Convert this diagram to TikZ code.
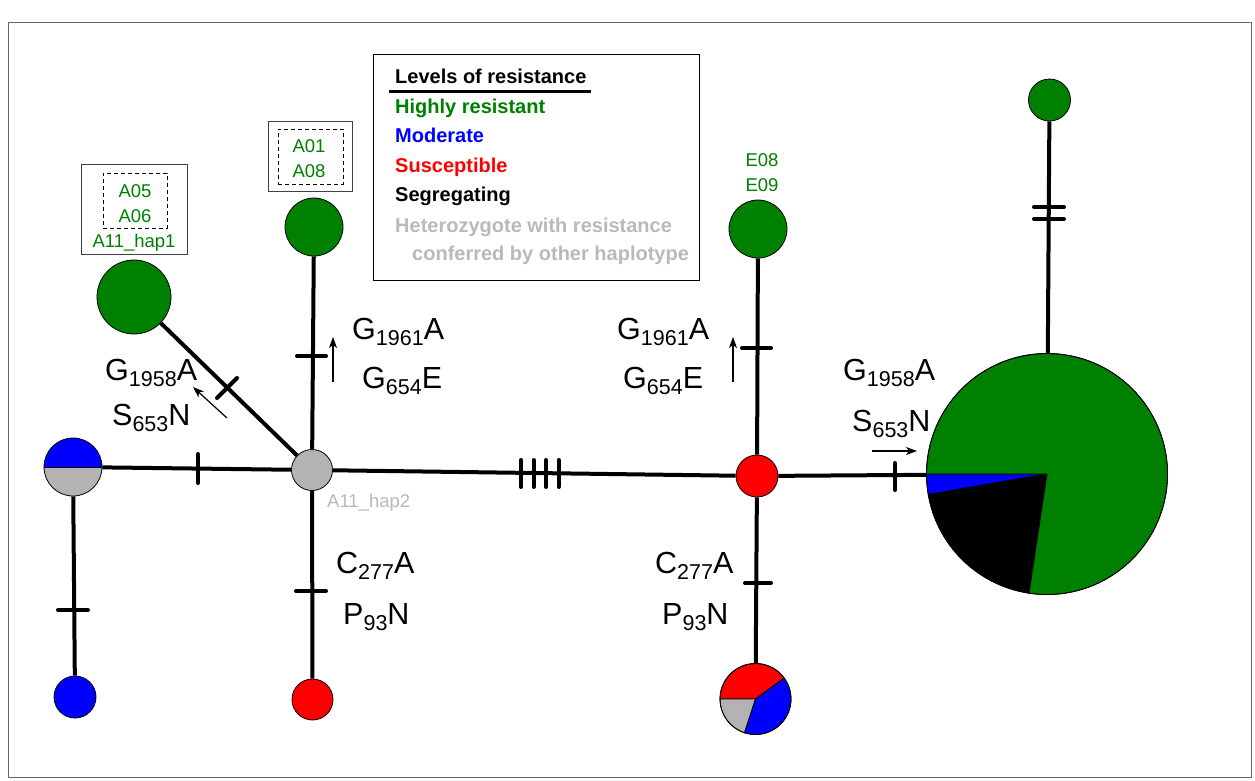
\documentclass[tikz,border=0pt]{standalone}
\usepackage{fontspec}
\setmainfont{Liberation Sans}
\usetikzlibrary{arrows.meta,backgrounds}
\definecolor{hgreen}{RGB}{0,128,0}
\definecolor{hgray}{RGB}{179,179,179}
\definecolor{lgray}{RGB}{185,185,185}
\newcommand\subs[1]{\raisebox{-0.2em}{\fontsize{21.5}{22}\selectfont #1}}
\begin{document}
\begin{tikzpicture}[x=1pt,y=-1pt,
  hap/.style={circle, draw=black, line width=0.8pt, inner sep=0pt},
  edge/.style={line width=4pt},
  tick/.style={line width=4pt, line cap=round},
  arr/.style={-{Stealth[length=11pt,width=8pt,inset=3pt]}, line width=1.2pt},
  mut/.style={font=\fontsize{30.5}{36}\selectfont, anchor=base west, inner sep=0pt},
  small/.style={font=\fontsize{18.5}{22}\selectfont, anchor=base, inner sep=0pt},
  legtxt/.style={font=\bfseries\fontsize{20}{24}\selectfont, anchor=base west, inner sep=0pt},
  box/.style={draw=black!75, line width=0.8pt, inner sep=0pt},
  dbox/.style={draw=black, line width=0.8pt, dash pattern=on 4pt off 3pt, inner sep=0pt}]
\useasboundingbox (0,0) rectangle (1255,780);
\draw[black!60, line width=1pt] (8,22) rectangle (1251,777);

% legend
\node[draw=black, line width=1pt, minimum width=326pt, minimum height=226pt, anchor=north west, inner sep=0pt] (leg) at (373,54) {};
\node[legtxt] (l0) at (395,83) {Levels of resistance};
\draw[line width=3pt] (389,91) -- (591,91);
\node[legtxt, text=hgreen] (l1) at (395,113) {Highly resistant};
\node[legtxt, text=blue] (l2) at (395,142) {Moderate};
\node[legtxt, text=red] (l3) at (395,172) {Susceptible};
\node[legtxt, text=black] (l4) at (395,201) {Segregating};
\node[legtxt, text=lgray] (l5) at (395,232) {Heterozygote with resistance};
\node[legtxt, text=lgray] (l6) at (412,260) {conferred by other haplotype};

% label boxes
\node[box, minimum width=106pt, minimum height=90pt] (bx1) at (134,209) {};
\node[dbox, minimum width=64pt, minimum height=55pt] (dx1) at (135,200.5) {};
\node[small, text=hgreen] (t1) at (135,197) {A05};
\node[small, text=hgreen] (t2) at (135,222) {A06};
\node[small, text=hgreen] (t3) at (134,247) {A11\_hap1};
\node[box, minimum width=84pt, minimum height=70pt] (bx2) at (310,156) {};
\node[dbox, minimum width=65pt, minimum height=55pt] (dx2) at (310.5,156.5) {};
\node[small, text=hgreen] (t4) at (309,152) {A01};
\node[small, text=hgreen] (t5) at (309,177) {A08};
\node[small, text=hgreen] (t6) at (762,166) {E08};
\node[small, text=hgreen] (t7) at (762,191) {E09};

% haplotype nodes
\node[hap, fill=hgreen, minimum size=74pt] (n1) at (134,297) {};
\node[hap, fill=hgreen, minimum size=58pt] (n2) at (314,227) {};
\node[hap, fill=hgray, minimum size=41pt] (c0) at (312,470) {};
\node[small, anchor=base west, text=lgray] (t8) at (327,507) {A11\_hap2};
\coordinate (hc) at (73,467);
\fill[blue] (hc) ++(0:29pt) arc[start angle=0, end angle=180, radius=29pt] -- cycle;
\fill[hgray] (hc) ++(180:29pt) arc[start angle=180, end angle=360, radius=29pt] -- cycle;
\draw[line width=0.8pt] (hc) ++(180:29pt) -- ++(0:58pt);
\node[hap, minimum size=58pt] (h) at (hc) {};
\node[hap, fill=blue, minimum size=42pt] (b) at (75,697) {};
\node[hap, fill=red, minimum size=41pt] (r1) at (312.5,699.5) {};
\node[hap, fill=red, minimum size=42pt] (r2) at (757,476) {};
\node[hap, fill=hgreen, minimum size=58pt] (e) at (758,229) {};
\coordinate (pc1) at (755.5,699);
\fill[red, draw=black, line width=0.8pt] (pc1) -- ++(36:35.5pt) arc[start angle=36, end angle=180, radius=35.5pt] -- cycle;
\fill[hgray, draw=black, line width=0.8pt] (pc1) -- ++(180:35.5pt) arc[start angle=180, end angle=252, radius=35.5pt] -- cycle;
\fill[blue, draw=black, line width=0.8pt] (pc1) -- ++(252:35.5pt) arc[start angle=252, end angle=396, radius=35.5pt] -- cycle;
\node[hap, minimum size=71pt] (p1) at (pc1) {};
\coordinate (pc2) at (1047,474);
\fill[blue, draw=black, line width=0.8pt] (pc2) -- ++(180:120.5pt) arc[start angle=180, end angle=189.8, radius=120.5pt] -- cycle;
\fill[black, draw=black, line width=0.8pt] (pc2) -- ++(189.8:120.5pt) arc[start angle=189.8, end angle=261.4, radius=120.5pt] -- cycle;
\fill[hgreen, draw=black, line width=0.8pt] (pc2) -- ++(261.4:120.5pt) arc[start angle=261.4, end angle=540, radius=120.5pt] -- cycle;
\node[hap, minimum size=241pt] (P) at (pc2) {};
\node[hap, fill=hgreen, minimum size=42pt] (t) at (1049.5,100) {};

% connectors
\begin{scope}[on background layer]
\draw[edge] (n1) -- (c0);
\draw[edge] (n2) -- (c0);
\draw[edge] (h) -- (c0);
\draw[edge] (h) -- (b);
\draw[edge] (c0) -- (r1);
\draw[edge] (c0) -- (r2);
\draw[edge] (e) -- (r2);
\draw[edge] (r2) -- (p1);
\draw[edge] (r2) -- (P);
\draw[edge] (t) -- (P);
\end{scope}

% mutation ticks
\draw[tick] (217,398) -- (237,378);
\draw[tick] (297,356) -- (326,356);
\draw[tick] (198,454) -- (198,483);
\draw[tick] (58,610) -- (88,610);
\draw[tick] (296,591) -- (326,591);
\draw[tick] (521,460) -- (521,487);
\draw[tick] (533.5,460) -- (533.5,487);
\draw[tick] (546,460) -- (546,487);
\draw[tick] (558.5,460) -- (558.5,487);
\draw[tick] (742,348) -- (771,348);
\draw[tick] (745,583) -- (771,583);
\draw[tick] (895,463) -- (895,490);
\draw[tick] (1034,207) -- (1064,207);
\draw[tick] (1034,219) -- (1064,219);

% direction arrows
\coordinate (a1s) at (227,418); \coordinate (a1e) at (193,387);
\coordinate (a2s) at (333,382); \coordinate (a2e) at (333,337);
\coordinate (a3s) at (733,382); \coordinate (a3e) at (733,337);
\coordinate (a4s) at (872,451); \coordinate (a4e) at (917,451);
\draw[arr] (a1s) -- (a1e);
\draw[arr] (a2s) -- (a2e);
\draw[arr] (a3s) -- (a3e);
\draw[arr] (a4s) -- (a4e);

% mutation labels
\node[mut] (m1) at (105,380) {G\subs{1958}A};
\node[mut] (m2) at (112,425) {S\subs{653}N};
\node[mut] (m3) at (352,339) {G\subs{1961}A};
\node[mut] (m4) at (362,388) {G\subs{654}E};
\node[mut] (m5) at (617,339) {G\subs{1961}A};
\node[mut] (m6) at (623,388) {G\subs{654}E};
\node[mut] (m7) at (843,380) {G\subs{1958}A};
\node[mut] (m8) at (852,431) {S\subs{653}N};
\node[mut] (m9) at (336,573) {C\subs{277}A};
\node[mut] (m10) at (343,624) {P\subs{93}N};
\node[mut] (m11) at (655,573) {C\subs{277}A};
\node[mut] (m12) at (662,624) {P\subs{93}N};
\end{tikzpicture}
\end{document}
